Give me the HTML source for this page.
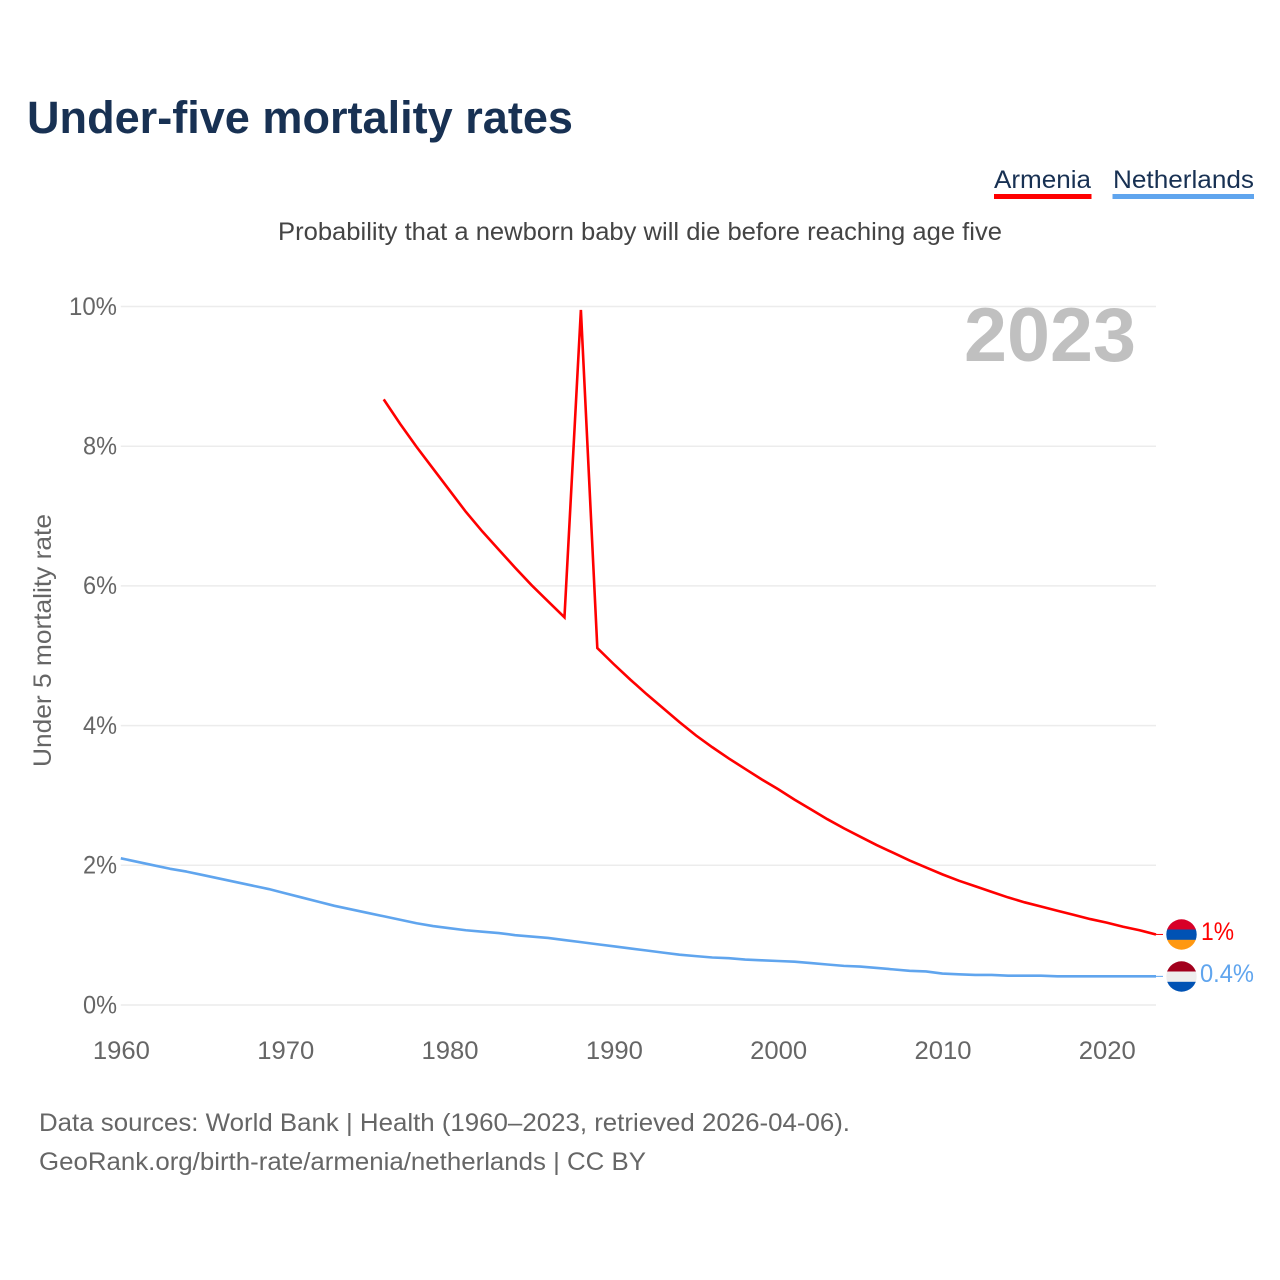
<!DOCTYPE html>
<html>
<head>
<meta charset="utf-8">
<title>Under-five mortality rates</title>
<style>
html,body{margin:0;padding:0;background:#fff;}
svg{display:block;font-family:"Liberation Sans",sans-serif;}
</style>
</head>
<body>
<svg id="chart" width="1280" height="1280" viewBox="0 0 1280 1280" xmlns="http://www.w3.org/2000/svg">
  <rect width="1280" height="1280" fill="#ffffff"/>
  <text x="27" y="133" font-size="45" font-weight="700" fill="#183153" textLength="546" lengthAdjust="spacingAndGlyphs">Under-five mortality rates</text>

  <g>
    <text x="994" y="188" font-size="25" fill="#183153" textLength="97" lengthAdjust="spacingAndGlyphs">Armenia</text>
    <rect x="994" y="194" width="97.500" height="5" fill="#ff0000"/>
  </g>
  <g>
    <text x="1113" y="188" font-size="25" fill="#183153" textLength="141" lengthAdjust="spacingAndGlyphs">Netherlands</text>
    <rect x="1112.500" y="194" width="141.500" height="5" fill="#60a5ee"/>
  </g>

  <text x="278" y="240" font-size="25" fill="#444444" textLength="724" lengthAdjust="spacingAndGlyphs">Probability that a newborn baby will die before reaching age five</text>

  <g id="grid"></g>
  <g id="ytick-labels"></g>
  <g id="xtick-labels"></g>

  <text x="964" y="361" font-size="76" font-weight="700" fill="#c0c0c0" textLength="172" lengthAdjust="spacingAndGlyphs">2023</text>

  <text transform="translate(51,767) rotate(-90)" x="0" y="0" font-size="25" fill="#666666" textLength="253" lengthAdjust="spacingAndGlyphs">Under 5 mortality rate</text>

  <g id="series"></g>

  <defs>
    <clipPath id="flag-am-clip"><circle cx="1181.500" cy="934.500" r="15.200"/></clipPath>
    <clipPath id="flag-nl-clip"><circle cx="1181.500" cy="976.500" r="15.200"/></clipPath>
  </defs>
  <g clip-path="url(#flag-am-clip)">
    <rect x="1166" y="919" width="31" height="11" fill="#d80027"/>
    <rect x="1166" y="929.500" width="31" height="10.500" fill="#0052b4"/>
    <rect x="1166" y="939.800" width="31" height="11" fill="#ff9811"/>
  </g>
  <g clip-path="url(#flag-nl-clip)">
    <rect x="1166" y="961" width="31" height="11" fill="#a2001d"/>
    <rect x="1166" y="971.500" width="31" height="10.500" fill="#eeeeee"/>
    <rect x="1166" y="981.800" width="31" height="11" fill="#0052b4"/>
  </g>

  <text x="1201" y="940" font-size="25" fill="#ff0000" textLength="33" lengthAdjust="spacingAndGlyphs">1%</text>
  <text x="1200" y="982" font-size="25" fill="#60a5ee" textLength="54" lengthAdjust="spacingAndGlyphs">0.4%</text>

  <text x="39" y="1131" font-size="25" fill="#666666" textLength="811" lengthAdjust="spacingAndGlyphs">Data sources: World Bank | Health (1960–2023, retrieved 2026-04-06).</text>
  <text x="39" y="1170" font-size="25" fill="#666666" textLength="607" lengthAdjust="spacingAndGlyphs">GeoRank.org/birth-rate/armenia/netherlands | CC BY</text>
</svg>
<script>
const armeniaYears = [1976,1977,1978,1979,1980,1981,1982,1983,1984,1985,1986,1987,1988,1989,1990,1991,1992,1993,1994,1995,1996,1997,1998,1999,2000,2001,2002,2003,2004,2005,2006,2007,2008,2009,2010,2011,2012,2013,2014,2015,2016,2017,2018,2019,2020,2021,2022,2023];
const armeniaValues = [8.67,8.32,7.99,7.68,7.37,7.06,6.78,6.52,6.26,6.01,5.78,5.55,9.95,5.11,4.88,4.66,4.45,4.25,4.05,3.86,3.69,3.53,3.38,3.23,3.09,2.94,2.80,2.66,2.53,2.41,2.29,2.18,2.07,1.97,1.87,1.78,1.70,1.62,1.54,1.47,1.41,1.35,1.29,1.23,1.18,1.12,1.07,1.01];
const netherlandsYears = [1960,1961,1962,1963,1964,1965,1966,1967,1968,1969,1970,1971,1972,1973,1974,1975,1976,1977,1978,1979,1980,1981,1982,1983,1984,1985,1986,1987,1988,1989,1990,1991,1992,1993,1994,1995,1996,1997,1998,1999,2000,2001,2002,2003,2004,2005,2006,2007,2008,2009,2010,2011,2012,2013,2014,2015,2016,2017,2018,2019,2020,2021,2022,2023];
const netherlandsValues = [2.10,2.05,2.00,1.95,1.91,1.86,1.81,1.76,1.71,1.66,1.60,1.54,1.48,1.42,1.37,1.32,1.27,1.22,1.17,1.13,1.10,1.07,1.05,1.03,1.00,0.98,0.96,0.93,0.90,0.87,0.84,0.81,0.78,0.75,0.72,0.70,0.68,0.67,0.65,0.64,0.63,0.62,0.60,0.58,0.56,0.55,0.53,0.51,0.49,0.48,0.45,0.44,0.43,0.43,0.42,0.42,0.42,0.41,0.41,0.41,0.41,0.41,0.41,0.41];
const yTicks = [0,2,4,6,8,10];
const xTicks = [1960,1970,1980,1990,2000,2010,2020];

const NS = 'http://www.w3.org/2000/svg';
const plotLeft = 120.8, plotRight = 1156, plotTop = 306.5, plotBottom = 1005;
const xDomain = [1960, 2023];
const yDomain = [0, 10];

function xScale(year) {
  return plotLeft + (year - xDomain[0]) / (xDomain[1] - xDomain[0]) * (plotRight - plotLeft);
}
function yScale(value) {
  return plotBottom - (value - yDomain[0]) / (yDomain[1] - yDomain[0]) * (plotBottom - plotTop);
}
function make(tag, attrs) {
  const el = document.createElementNS(NS, tag);
  for (const k in attrs) el.setAttribute(k, attrs[k]);
  return el;
}

const gridGroup = document.getElementById('grid');
const yLabelGroup = document.getElementById('ytick-labels');
const xLabelGroup = document.getElementById('xtick-labels');
const seriesGroup = document.getElementById('series');

yTicks.forEach(function (t) {
  const line = make('line', {x1: plotLeft, x2: plotRight, y1: yScale(t), y2: yScale(t), stroke: '#ececec', 'stroke-width': 1.5});
  
  
  gridGroup.appendChild(line);
  const label = make('text', {x: 117, y: yScale(t) + 8.3, 'text-anchor': 'end', 'font-size': 25, fill: '#666666', textLength: t >= 10 ? 48 : 34, lengthAdjust: 'spacingAndGlyphs'});
  
  
  label.textContent = t + '%';
  yLabelGroup.appendChild(label);
});

xTicks.forEach(function (t) {
  const label = make('text', {x: xScale(t) + 0.6, y: 1059, 'text-anchor': 'middle', 'font-size': 25, fill: '#666666', textLength: 57, lengthAdjust: 'spacingAndGlyphs'});
  
  
  label.textContent = String(t);
  xLabelGroup.appendChild(label);
});

function linePoints(years, values) {
  return years.map(function (y, i) {
    return xScale(y).toFixed(2) + ',' + yScale(values[i]).toFixed(2);
  }).join(' ');
}

const armeniaLine = make('polyline', {points: linePoints(armeniaYears, armeniaValues), fill: 'none', stroke: '#ff0000', 'stroke-width': 2.6, 'stroke-linejoin': 'miter'});


seriesGroup.appendChild(armeniaLine);

const netherlandsLine = make('polyline', {points: linePoints(netherlandsYears, netherlandsValues), fill: 'none', stroke: '#60a5ee', 'stroke-width': 2.6, 'stroke-linejoin': 'round'});


seriesGroup.appendChild(netherlandsLine);

const armeniaLast = armeniaValues[armeniaValues.length - 1];
const netherlandsLast = netherlandsValues[netherlandsValues.length - 1];

const armeniaLead = make('line', {x1: plotRight, x2: plotRight + 7, y1: yScale(armeniaLast), y2: yScale(armeniaLast), stroke: '#ff0000', 'stroke-width': 1});


seriesGroup.appendChild(armeniaLead);

const netherlandsLead = make('line', {x1: plotRight, x2: plotRight + 7, y1: yScale(netherlandsLast), y2: yScale(netherlandsLast), stroke: '#60a5ee', 'stroke-width': 1});


seriesGroup.appendChild(netherlandsLead);
</script>
</body>
</html>
